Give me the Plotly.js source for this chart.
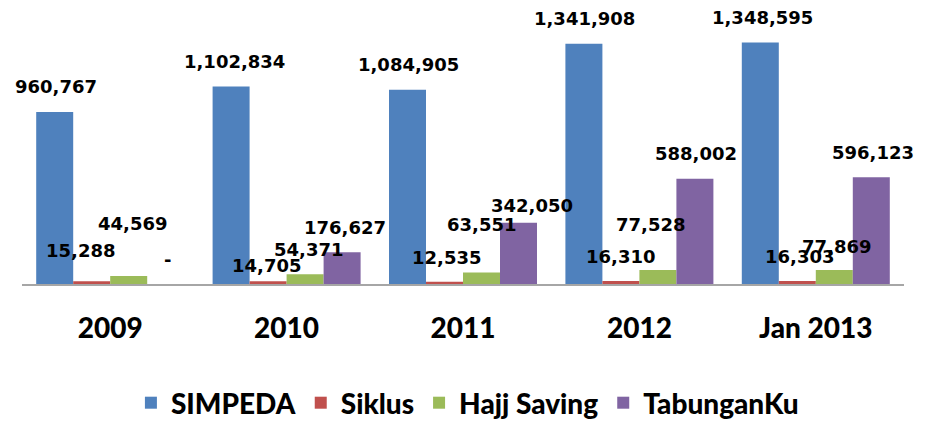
<!DOCTYPE html>
<html>
<head>
<meta charset="utf-8">
<script src="https://cdn.plot.ly/plotly-3.0.1.min.js"></script>
<style>html,body{margin:0;padding:0;background:#fff;}#chart{width:932px;height:421px;}</style>
</head>
<body>
<div id="chart"></div>
<script>
// ---- data ----
const categories = ['2009', '2010', '2011', '2012', 'Jan 2013'];
const seriesNames = ['SIMPEDA', 'Siklus', 'Hajj Saving', 'TabunganKu'];
const simpeda    = [960767, 1102834, 1084905, 1341908, 1348595];
const siklus     = [15288, 14705, 12535, 16310, 16303];
const hajjSaving = [44569, 54371, 63551, 77528, 77869];
const tabunganKu = [0, 176627, 342050, 588002, 596123];

// ---- styling ----
const colors = ['#4F81BD', '#C0504D', '#9BBB59', '#8064A2'];
// label offsets in pixels (as placed in the original), per series, per category
const labelDy = [
  [25, 25, 25, 25, 25],
  [31, 16, 24, 25, 25],
  [53, 25, 48, 46, 24],
  [25, 25, 17, 25, 25]
];
const labelDx = [
  [1, 3, 1, 1, 2],
  [-11, -2, 2, 0, 2],
  [4, 3, 0, -7, 2],
  [2, 3, 13, 1, 2]
];

const allSeries = [simpeda, siklus, hajjSaving, tabunganKu];
const bargap = 0.161;
const barW = (1 - bargap) / allSeries.length;
const fmt = v => v === 0 ? '-' : v.toLocaleString('en-US');

const traces = allSeries.map((vals, i) => ({
  type: 'bar',
  name: seriesNames[i],
  x: categories,
  y: vals,
  marker: {color: colors[i], line: {width: 0}},
  hoverinfo: 'x+y+name'
}));

const annotations = [];
allSeries.forEach((vals, i) => {
  vals.forEach((v, j) => {
    annotations.push({
      xref: 'x', yref: 'y',
      x: j + (i - (allSeries.length - 1) / 2) * barW,
      y: v,
      text: fmt(v),
      showarrow: false,
      xanchor: 'center', yanchor: 'middle',
      xshift: labelDx[i][j],
      yshift: labelDy[i][j],
      font: {family: 'DejaVu Sans', size: 18, color: '#000', weight: 700}
    });
  });
});

const layout = {
  width: 932, height: 421,
  margin: {l: 22, r: 28, t: 4, b: 137, autoexpand: false},
  paper_bgcolor: '#fff', plot_bgcolor: '#fff',
  barmode: 'group',
  bargap: bargap,
  bargroupgap: 0,
  showlegend: true,
  legend: {
    orientation: 'h', x: 0.505, xanchor: 'center', y: -0.425, yanchor: 'middle',
    font: {family: 'Lato', size: 28, color: '#000', weight: 900},
    traceorder: 'normal'
  },
  xaxis: {
    type: 'category',
    range: [-0.5, categories.length - 0.5],
    showline: true, linecolor: '#a6a6a6', linewidth: 2,
    ticks: '', showgrid: false, zeroline: false,
    ticklabelstandoff: 18,
    tickfont: {family: 'Lato', size: 28, color: '#000', weight: 900}
  },
  yaxis: {
    visible: false, range: [0, 1563800], showgrid: false, zeroline: false
  },
  annotations: annotations
};

Plotly.newPlot('chart', traces, layout, {displayModeBar: false, staticPlot: true});
</script>
</body>
</html>
